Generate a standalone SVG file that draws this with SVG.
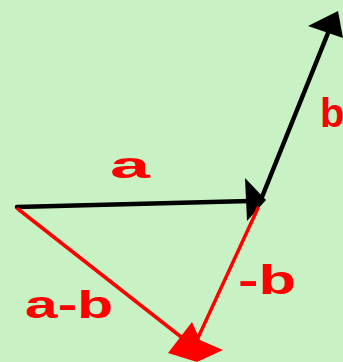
<svg xmlns="http://www.w3.org/2000/svg" width="343" height="362" viewBox="0 0 343 362">
<style>
.blk{stroke:#000;stroke-width:4.5;fill:none;stroke-linecap:round}
.red{stroke:#f00;stroke-width:3.5;fill:none;stroke-linecap:round}
.lbl{font-family:"Liberation Sans",Arial,sans-serif;fill:#f00;font-weight:bold}
</style>
<rect width="343" height="362" fill="#c9f2c4"/>
<g id="connectors">
<line class="blk" x1="17" y1="207" x2="250" y2="201"/>
<polygon points="245,178 266,200 247,221" fill="#000"/>
<line class="blk" x1="260" y1="202" x2="330" y2="28"/>
<polygon points="308,26 338,11 343,38" fill="#000"/>
<line class="red" x1="258" y1="208" x2="197" y2="340"/>
<line class="red" x1="18" y1="209" x2="185" y2="340"/>
<polygon points="168,353 192,322 200,340 223,350 197,362" fill="#f00"/>
</g>
<g id="label-a"><text class="lbl" x="110" y="178" font-size="36" textLength="40" lengthAdjust="spacingAndGlyphs">a</text></g>
<g id="label-b"><text class="lbl" x="320" y="127" font-size="40">b</text></g>
<g id="label-minus-b"><text class="lbl" x="238" y="294" font-size="40" textLength="58" lengthAdjust="spacingAndGlyphs">-b</text></g>
<g id="label-a-b"><text class="lbl" x="25" y="318" font-size="38" textLength="88" lengthAdjust="spacingAndGlyphs">a-b</text></g>
</svg>
